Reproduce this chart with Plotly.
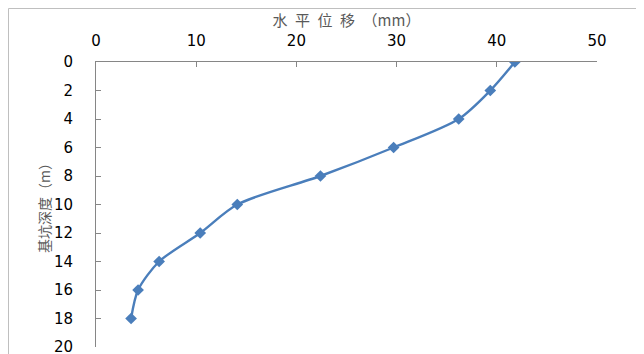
import plotly.graph_objects as go

# depth (m) vs horizontal displacement (mm)
depth = [0, 2, 4, 6, 8, 10, 12, 14, 16, 18]
displacement = [41.8, 39.35, 36.2, 29.7, 22.4, 14.1, 10.4, 6.3, 4.2, 3.5]

x_title = "水\u2002平\u2002位\u2002移\u2002（mm）"
y_title = "基坑深度（m）"

axis_gray = "#868686"
tick_font = dict(family="DejaVu Sans", size=15, color="#000000")
title_font = dict(family="Noto Sans CJK SC", size=15, color="#595959")

fig = go.Figure()
fig.add_trace(go.Scatter(
    x=displacement, y=depth,
    mode="lines+markers",
    line=dict(color="#4A7EBB", width=2.4, shape="spline", smoothing=0.8),
    marker=dict(symbol="diamond", size=9, color="#4A7EBB"),
    showlegend=False,
))

# page body has an 8px margin, so the figure is 8px smaller than the window
W, H = 636, 346
L, T = 88, 54
R, B = W - 589, H - 339
pw, ph = W - L - R, H - T - B
fx = lambda px: (px - L) / pw
fy = lambda py: (H - B - py) / ph

# chart frame (only the top and left edges are visible in the crop)
frame = dict(type="line", xref="paper", yref="paper", line=dict(color="#BFBFBF", width=1))
fig.add_shape(frame, x0=fx(0.5), x1=fx(W), y0=fy(0.5), y1=fy(0.5))
fig.add_shape(frame, x0=fx(0.5), x1=fx(0.5), y0=fy(0.5), y1=fy(H))

fig.update_layout(
    width=W, height=H,
    margin=dict(l=L, r=R, t=T, b=B, autoexpand=False),
    paper_bgcolor="white", plot_bgcolor="white",
    xaxis=dict(
        side="top", range=[0, 50], dtick=10, tick0=0,
        showgrid=False, zeroline=False, automargin=False,
        showline=True, linecolor=axis_gray, linewidth=1,
        ticks="inside", ticklen=5, tickcolor=axis_gray,
        tickfont=tick_font, ticklabelstandoff=9, ticklabeloverflow="allow",
        title=dict(text=x_title, font=title_font, standoff=1),
    ),
    yaxis=dict(
        range=[20, 0], dtick=2, tick0=0,
        showgrid=False, zeroline=False, automargin=False,
        showline=True, linecolor=axis_gray, linewidth=1,
        ticks="inside", ticklen=5, tickcolor=axis_gray,
        tickfont=tick_font, ticklabelstandoff=19, ticklabeloverflow="allow",
        title=dict(text=y_title, font=dict(family="Noto Sans CJK SC", size=14, color="#595959"), standoff=0),
    ),
)

fig.write_html("out.html")
